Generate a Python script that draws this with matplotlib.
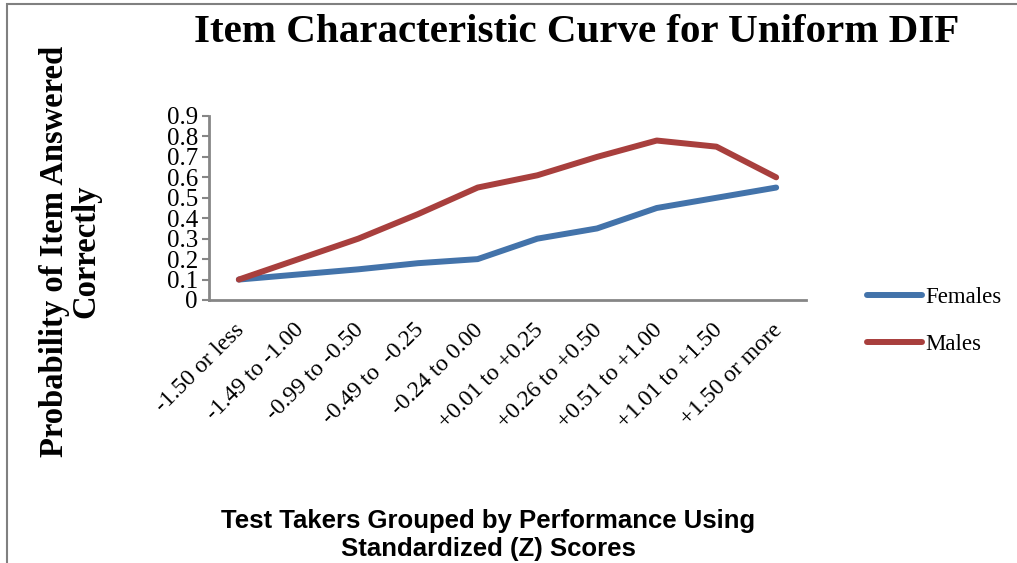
import matplotlib.pyplot as plt
from matplotlib.patches import Rectangle
from matplotlib.lines import Line2D
from matplotlib.transforms import ScaledTranslation

# score groups on the x axis
groups = ["-1.50 or less", "-1.49 to -1.00", "-0.99 to -0.50", "-0.49 to  -0.25",
          "-0.24 to 0.00", "+0.01 to +0.25", "+0.26 to +0.50", "+0.51 to +1.00",
          "+1.01 to +1.50", "+1.50 or more"]
females = [0.10, 0.125, 0.15, 0.18, 0.20, 0.30, 0.35, 0.45, 0.50, 0.55]
males = [0.10, 0.20, 0.30, 0.42, 0.55, 0.61, 0.70, 0.78, 0.75, 0.60]
yticks = [0, 0.1, 0.2, 0.3, 0.4, 0.5, 0.6, 0.7, 0.8, 0.9]

blue = "#4373AA"
red = "#A83F3D"
axis_col = "#868686"
serif = "Liberation Serif"
lw = 4.3

fig = plt.figure(figsize=(10.17, 5.63), dpi=100)
ax = fig.add_axes([209/1017, 1 - 300/563, 597/1017, 184/563])

x = list(range(len(groups)))
ax.plot(x, females, color=blue, lw=lw, solid_capstyle="round", label="Females")
ax.plot(x, males, color=red, lw=lw, solid_capstyle="round", label="Males")

ax.set_xlim(-0.5, len(groups) - 0.5)
ax.set_ylim(0, 0.9)
ax.set_yticks(yticks)
ax.set_yticklabels(["0" if v == 0 else f"{v:.1f}" for v in yticks],
                   fontfamily=serif, fontsize=18)
ax.set_xticks(x)
ax.set_xticklabels(groups, rotation=45, ha="right", va="top",
                   rotation_mode="anchor", fontfamily=serif, fontsize=17)
ax.tick_params(axis="x", length=0, pad=14)
ax.tick_params(axis="y", length=5, width=1.5, color=axis_col, pad=3)
# nudge the slanted labels a little to the left
shift = ScaledTranslation(-5/100, 0, fig.dpi_scale_trans)
for lab in ax.get_xticklabels():
    lab.set_transform(lab.get_transform() + shift)

for s in ["top", "right"]:
    ax.spines[s].set_visible(False)
for s in ["left", "bottom"]:
    ax.spines[s].set_color(axis_col)
    ax.spines[s].set_linewidth(2)

fig.text(577/1017, 1 - 33/563, "Item Characteristic Curve for Uniform DIF",
         ha="center", va="center", fontfamily=serif, fontweight="bold", fontsize=29.5)
fig.text(70/1017, 1 - 251/563, "Probability of Item Answered\nCorrectly",
         ha="center", va="center", rotation=90, fontfamily=serif,
         fontweight="bold", fontsize=23.5, linespacing=1.0)
fig.text(488/1017, 1 - 535/563, "Test Takers Grouped by Performance Using\nStandardized (Z) Scores",
         ha="center", va="center", fontfamily="Liberation Sans", fontweight="bold",
         fontsize=18.5, linespacing=1.2)

handles = [Line2D([], [], color=blue, lw=lw, solid_capstyle="round"),
           Line2D([], [], color=red, lw=lw, solid_capstyle="round")]
fig.legend(handles, ["Females", "Males"], loc="center left",
           bbox_to_anchor=(846/1017, 1 - 321/563), frameon=False,
           prop={"family": serif, "size": 16.5}, handlelength=2.4,
           handletextpad=0.15, labelspacing=1.1)

# frame around the whole chart
fig.patches.append(Rectangle((7/1017, -0.1), 1.2, 1 - 4/563 + 0.1,
                             transform=fig.transFigure, fill=False,
                             edgecolor="#808080", lw=1.5))

fig.savefig("out.png", dpi=100)
